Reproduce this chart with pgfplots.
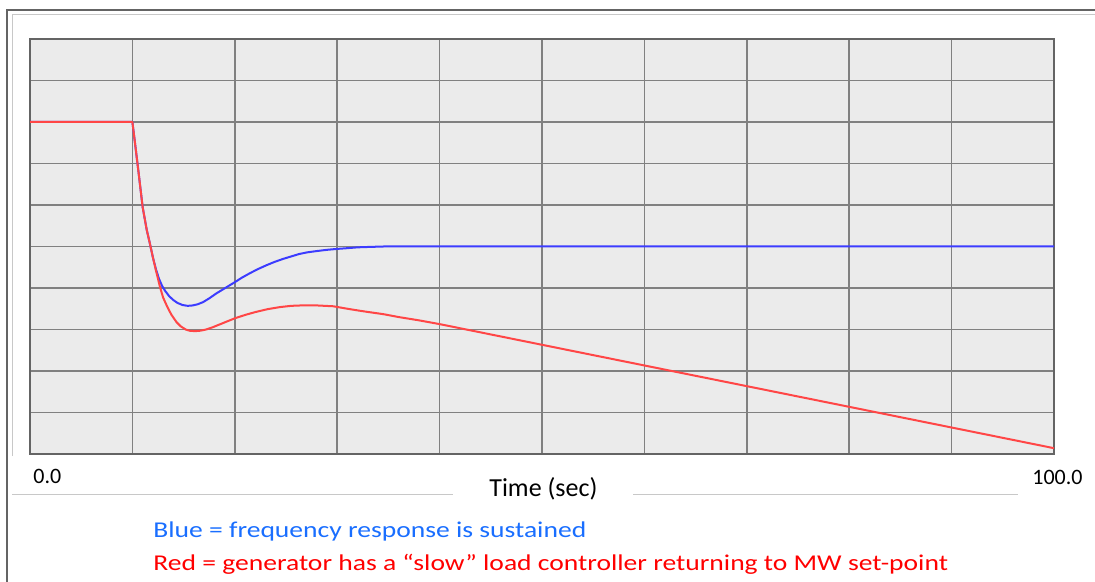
\documentclass[border=0pt]{standalone}
\usepackage{fontspec}
\setmainfont{Carlito}
\usepackage{pgfplots}
\pgfplotsset{compat=1.18}
\definecolor{plotbg}{RGB}{235,235,235}
\definecolor{gridc}{RGB}{128,128,128}
\definecolor{framec}{RGB}{100,100,100}
\definecolor{lightc}{RGB}{200,200,200}
\definecolor{curvered}{RGB}{255,70,70}
\definecolor{curveblue}{RGB}{60,60,255}
\definecolor{txtblue}{RGB}{25,110,255}

\begin{document}
\begin{tikzpicture}
% page size: 1095x582 px at 0.5pt per px
\path[use as bounding box] (0,0) rectangle (547.5pt,-291pt);

% screenshot frame
\draw[framec, line width=0.8pt] (3.5pt,-291pt) -- (3.5pt,-5pt) -- (547.5pt,-5pt);
\draw[lightc, line width=0.5pt] (6pt,-228pt) -- (6pt,-7.5pt) -- (547.5pt,-7.5pt);
\draw[lightc, line width=0.5pt] (6pt,-247pt) -- (226.5pt,-247pt);
\draw[lightc, line width=0.5pt] (316.5pt,-247pt) -- (509pt,-247pt);

\begin{axis}[
    at={(15pt,-227pt)}, anchor=south west,
    width=512pt, height=207.5pt,
    scale only axis,
    xmin=0, xmax=100,
    ymin=0, ymax=10,
    xtick={0,10,...,100},
    ytick={0,1,...,10},
    xticklabels={}, yticklabels={},
    major tick length=0pt,
    grid=major,
    major grid style={gridc, line width=0.8pt},
    axis line style={framec, line width=1.2pt},
    axis background/.style={fill=plotbg},
    clip=true,
]

% Blue: frequency response sustained
\addplot[curveblue, line width=1pt, line join=round] coordinates {
    (0,8) (10,8) (10.1,7.8) (10.25,7.5) (10.57,6.85) (11.0,5.95) (11.4,5.4)
    (11.7,5.08) (12.0,4.74) (12.3,4.45) (12.6,4.22) (12.9,4.05) (13.2,3.93)
    (13.6,3.8) (14.0,3.71) (14.4,3.64) (14.9,3.59) (15.4,3.57) (15.9,3.58)
    (16.4,3.61) (16.9,3.66) (17.5,3.75) (18.2,3.87) (19,3.99) (20,4.14)
    (20.7,4.25) (21.5,4.36) (22.3,4.46) (23.1,4.55) (23.9,4.63) (24.7,4.7)
    (25.5,4.76) (26.3,4.82) (27.1,4.86) (28,4.89) (29,4.92) (29.9,4.94)
    (31,4.96) (32,4.98) (33.2,4.99) (34.5,5.0) (100,5.0)
};

% Red: slow load controller returning to MW set-point
\addplot[curvered, line width=1pt, line join=round] coordinates {
    (0,8) (10,8) (10.1,7.8) (10.25,7.5) (10.57,6.85) (11.0,5.95) (11.4,5.4)
    (11.7,5.08) (12.0,4.74) (12.3,4.42) (12.7,4.02) (13.0,3.77) (13.4,3.55)
    (13.8,3.36) (14.3,3.18) (14.7,3.08) (15.2,3.0) (15.6,2.97) (16.1,2.96)
    (16.6,2.97) (17.2,3.0) (17.8,3.05) (18.5,3.12) (19.2,3.19) (20,3.27)
    (21,3.35) (22,3.42) (23.2,3.49) (24.4,3.54) (25.5,3.57) (26.5,3.58)
    (28,3.58) (29.6,3.56) (30.3,3.53) (31,3.5) (32,3.46) (32.8,3.43)
    (34.5,3.37) (36,3.3) (38,3.22) (40,3.13) (100,0.14)
};
\end{axis}

% labels
\node[anchor=base west, inner sep=0pt, font=\fontsize{11}{13}\selectfont] at (16.5pt,-241.5pt) {0.0};
\node[anchor=base west, inner sep=0pt, font=\fontsize{11}{13}\selectfont] at (516pt,-242pt) {100.0};
\node[anchor=base, inner sep=0pt, font=\fontsize{13}{15}\selectfont] at (271.7pt,-248pt) {Time (sec)};
\node[anchor=base west, inner sep=0pt, text=txtblue, font=\fontsize{11.3}{13}\selectfont] at (76.5pt,-268.5pt) {\scalebox{1.22}[1]{Blue = frequency response is sustained}};
\node[anchor=base west, inner sep=0pt, text=red, font=\fontsize{11.3}{13}\selectfont] at (76.5pt,-285pt) {\scalebox{1.22}[1]{Red = generator has a “slow” load controller returning to MW set-point}};
\end{tikzpicture}
\end{document}
